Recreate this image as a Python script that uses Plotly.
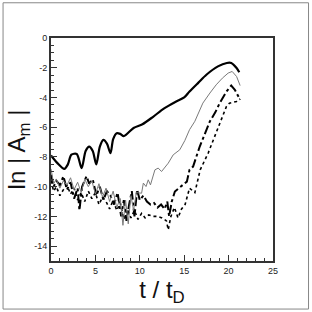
import plotly.graph_objects as go

# Thick solid curve
t_a = [0.0, 0.7, 1.5, 1.9, 2.3, 2.9, 3.45, 3.9, 4.3, 4.7, 5.1, 5.5, 5.9, 6.3, 6.7, 7.0, 7.4, 7.8, 8.2, 9.3, 10.3, 11.5, 12.7, 14.0, 15.0, 15.6, 16.6, 17.5, 18.8, 19.8, 20.3, 20.9, 21.2]
y_a = [-7.9, -8.4, -8.8, -8.5, -7.85, -7.8, -8.75, -7.6, -7.3, -7.6, -8.5, -7.3, -6.85, -7.1, -7.75, -6.8, -6.4, -6.45, -6.6, -6.05, -5.8, -5.3, -4.75, -4.3, -4.0, -3.6, -3.0, -2.47, -1.91, -1.68, -1.68, -2.02, -2.3]

# Thin gray curve
t_b = [0.0, 0.3, 0.6, 1.0, 1.4, 1.8, 2.2, 2.6, 3.0, 3.4, 3.8, 4.2, 4.6, 5.0, 5.4, 5.8, 6.2, 6.6, 7.0, 7.4, 7.8, 8.1, 8.4, 8.7, 9.0, 9.3, 9.6, 10.2, 10.4, 10.7, 10.95, 11.2, 11.7, 12.07, 12.45, 13.2, 13.76, 14.5, 15.07, 15.6, 16.2, 17.1, 17.9, 18.6, 19.3, 19.95, 20.4, 20.9, 21.3]
y_b = [-8.8, -9.8, -9.5, -10.1, -9.6, -9.9, -9.4, -10.2, -9.7, -10.4, -9.5, -10.0, -9.6, -10.5, -9.8, -10.7, -10.1, -11.0, -10.3, -11.4, -10.8, -12.6, -10.9, -12.5, -10.6, -11.6, -10.4, -10.44, -9.76, -9.99, -9.54, -9.88, -8.87, -8.75, -8.98, -8.42, -7.86, -7.52, -6.9, -6.17, -5.6, -4.38, -3.7, -3.15, -2.7, -2.36, -2.25, -2.59, -3.2]

# Dash-dot curve
t_c = [0.0, 0.3, 0.6, 1.0, 1.4, 1.8, 2.2, 2.6, 3.0, 3.2, 3.5, 4.0, 4.3, 4.7, 5.1, 5.5, 5.9, 6.3, 6.7, 7.1, 7.5, 7.9, 8.2, 8.5, 8.8, 9.1, 9.4, 9.7, 10.0, 10.4, 10.8, 11.2, 11.6, 12.0, 12.4, 12.8, 13.1, 13.3, 13.6, 13.95, 14.4, 14.9, 15.3, 15.6, 16.0, 16.75, 17.3, 17.9, 18.5, 19.0, 19.76, 20.3, 20.7, 21.3]
y_c = [-9.2, -10.0, -9.6, -9.9, -9.3, -10.2, -9.7, -10.8, -10.1, -11.6, -10.0, -9.3, -9.8, -9.5, -10.6, -10.0, -10.9, -10.3, -10.6, -11.2, -10.4, -12.0, -10.9, -12.3, -11.2, -10.3, -12.0, -10.2, -10.9, -10.6, -11.0, -11.2, -11.1, -11.4, -11.2, -11.5, -11.0, -12.0, -11.0, -10.33, -10.1, -9.88, -9.66, -8.87, -8.65, -7.3, -6.5, -5.6, -5.0, -4.38, -3.6, -3.2, -3.48, -4.15]

# Dotted curve
t_d = [0.0, 0.3, 0.6, 1.0, 1.4, 1.8, 2.2, 2.6, 3.0, 3.4, 3.8, 4.2, 4.6, 5.0, 5.4, 5.8, 6.2, 6.6, 7.0, 7.4, 7.8, 8.2, 8.6, 9.0, 9.4, 9.8, 10.2, 10.6, 11.0, 11.5, 12.0, 12.5, 13.0, 13.2, 13.5, 13.9, 14.3, 14.7, 15.1, 15.6, 16.2, 16.8, 17.7, 18.45, 19.2, 19.76, 20.1, 20.9, 21.3]
y_d = [-9.6, -10.3, -10.0, -10.6, -10.2, -9.9, -10.5, -10.1, -10.9, -10.4, -11.0, -10.3, -10.8, -10.4, -11.2, -10.7, -11.0, -11.5, -10.9, -11.6, -11.1, -12.2, -11.5, -12.1, -11.6, -12.2, -11.8, -12.1, -11.9, -12.0, -12.0, -12.1, -12.3, -12.9, -12.0, -11.4, -12.1, -11.5, -11.2, -10.1, -10.4, -8.87, -7.74, -6.63, -5.39, -4.6, -4.38, -4.27, -4.1]

x_ticks = [0, 5, 10, 15, 20, 25]
y_ticks = [0, -2, -4, -6, -8, -10, -12, -14]

fig = go.Figure()
fig.add_trace(go.Scatter(x=t_d, y=y_d, mode="lines", line=dict(color="black", width=1.6, dash="dot")))
fig.add_trace(go.Scatter(x=t_c, y=y_c, mode="lines", line=dict(color="black", width=2, dash="dashdot")))
fig.add_trace(go.Scatter(x=t_b, y=y_b, mode="lines", line=dict(color="#7a7a7a", width=1)))
fig.add_trace(go.Scatter(x=t_a, y=y_a, mode="lines", line=dict(color="black", width=2.2, shape="spline", smoothing=0.8)))

axis_common = dict(
    showgrid=False, zeroline=False, showline=True, linecolor="#333333", linewidth=2,
    mirror=True, ticks="inside", ticklen=6, tickwidth=1, tickcolor="#333333",
    tickfont=dict(family="Liberation Sans, Arial", size=9, color="#222222"),
)
fig.update_xaxes(range=[0, 25], tickvals=x_ticks, ticktext=[str(v) for v in x_ticks],
                 minor=dict(dtick=1, ticks="inside", ticklen=3, tickcolor="#333333"),
                 title=dict(text="t / t<sub>D</sub>", font=dict(family="Liberation Sans, Arial", size=24, color="#111111"), standoff=4),
                 **axis_common)
fig.update_yaxes(range=[-15, 0], tickvals=y_ticks, ticktext=[str(v) for v in y_ticks],
                 minor=dict(dtick=0.5, ticks="inside", ticklen=3, tickcolor="#333333"),
                 title=dict(text="ln | A<sub>m</sub> |", font=dict(family="Liberation Sans, Arial", size=24, color="#111111"), standoff=2),
                 **axis_common)

fig.add_shape(type="rect", xref="paper", yref="paper", x0=-0.216, x1=1.16, y0=-0.2155, y1=1.158,
              line=dict(color="#888888", width=1))

fig.update_layout(width=312, height=312, margin=dict(l=51, r=39, t=38, b=51),
                  plot_bgcolor="white", paper_bgcolor="white", showlegend=False)
fig.write_html("out.html", config={"displayModeBar": False},
               post_script="document.body.style.margin='0';document.body.style.overflow='hidden';")
